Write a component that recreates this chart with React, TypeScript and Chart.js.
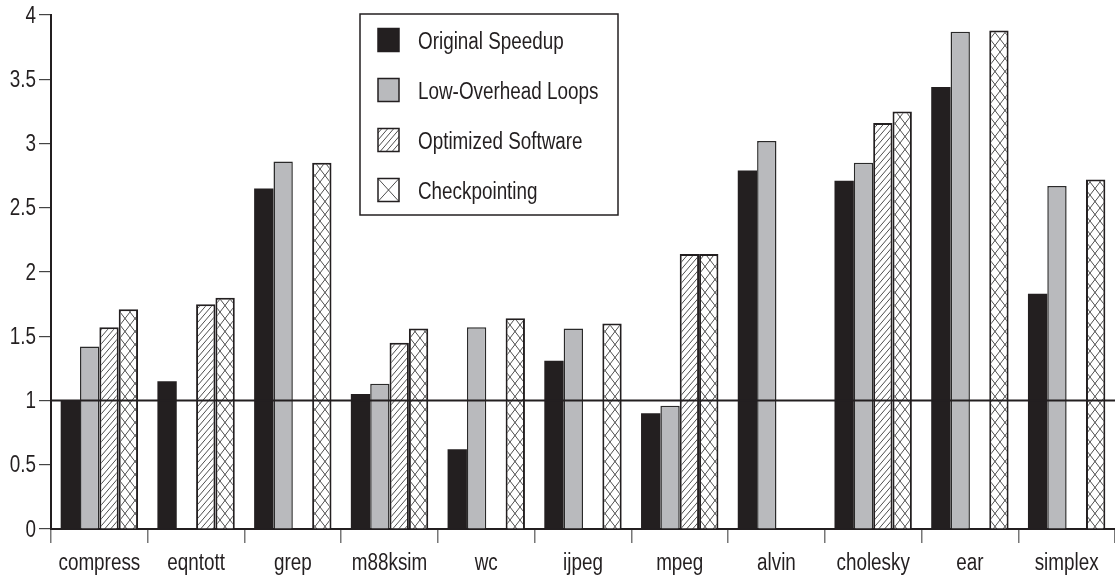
import React, { useEffect, useRef } from "react";
import { Chart, registerables } from "chart.js";

Chart.register(...registerables);

const categories = ["compress", "eqntott", "grep", "m88ksim", "wc", "ijpeg", "mpeg", "alvin", "cholesky", "ear", "simplex"];
const seriesNames = ["Original Speedup", "Low-Overhead Loops", "Optimized Software", "Checkpointing"];
const originalSpeedup = [1.0, 1.15, 2.65, 1.05, 0.62, 1.31, 0.9, 2.79, 2.71, 3.44, 1.83];
const lowOverheadLoops = [1.42, null, 2.86, 1.13, 1.57, 1.56, 0.96, 3.02, 2.85, 3.87, 2.67];
const optimizedSoftware = [1.57, 1.75, null, 1.45, null, null, 2.14, null, 3.16, null, null];
const checkpointing = [1.71, 1.8, 2.85, 1.56, 1.64, 1.6, 2.14, null, 3.25, 3.88, 2.72];
const yMin = 0;
const yMax = 4;
const yStep = 0.5;
const referenceValue = 1;

const FONT = "'Liberation Sans', Arial, Helvetica, sans-serif";
const FONT_SIZE = 23;
const SQUEEZE = 0.82; // narrow Helvetica look
const BLACK = "#231f20";
const GRAY = "#b9babd";

function makeHatch(): CanvasPattern | string {
  const c = document.createElement("canvas");
  const w = 6, h = 7;
  c.width = w; c.height = h;
  const g = c.getContext("2d");
  if (!g) return "#fff";
  g.fillStyle = "#fff";
  g.fillRect(0, 0, w, h);
  g.strokeStyle = "#222";
  g.lineWidth = 0.8;
  g.beginPath();
  g.moveTo(-w, 2 * h); g.lineTo(2 * w, -h);
  g.moveTo(-2 * w, 2 * h); g.lineTo(w, -h);
  g.moveTo(0, 2 * h); g.lineTo(3 * w, -h);
  g.stroke();
  return g.createPattern(c, "repeat") || "#fff";
}

function makeCross(): CanvasPattern | string {
  const c = document.createElement("canvas");
  const w = 10, h = 13;
  c.width = w; c.height = h;
  const g = c.getContext("2d");
  if (!g) return "#fff";
  g.fillStyle = "#fff";
  g.fillRect(0, 0, w, h);
  g.strokeStyle = "#222";
  g.lineWidth = 0.8;
  g.beginPath();
  g.moveTo(0, 0); g.lineTo(w, h);
  g.moveTo(0, h); g.lineTo(w, 0);
  g.stroke();
  return g.createPattern(c, "repeat") || "#fff";
}

function narrowText(ctx: CanvasRenderingContext2D, text: string, x: number, y: number, align: CanvasTextAlign) {
  ctx.save();
  ctx.translate(x, y);
  ctx.scale(SQUEEZE, 1);
  ctx.textAlign = align;
  ctx.textBaseline = "alphabetic";
  ctx.fillText(text, 0, 0);
  ctx.restore();
}

export default function App() {
  const ref = useRef<HTMLCanvasElement | null>(null);

  useEffect(() => {
    if (!ref.current) return;
    const hatch = makeHatch();
    const cross = makeCross();
    const fills: any[] = [BLACK, GRAY, hatch, cross];
    const borders = [BLACK, "#2a2a2a", BLACK, BLACK];
    const borderWidths = [0, 1.5, 2, 2];

    const refLine = {
      id: "refLine",
      afterDatasetsDraw(chart: any) {
        const { ctx, chartArea, scales } = chart;
        const y = scales.y.getPixelForValue(referenceValue);
        ctx.save();
        ctx.strokeStyle = BLACK;
        ctx.lineWidth = 2;
        ctx.beginPath();
        ctx.moveTo(chartArea.left, y);
        ctx.lineTo(chartArea.right, y);
        ctx.stroke();
        ctx.restore();
      },
    };

    const axisLabels = {
      id: "axisLabels",
      afterDraw(chart: any) {
        const { ctx, scales } = chart;
        ctx.save();
        ctx.fillStyle = BLACK;
        ctx.font = `${FONT_SIZE}px ${FONT}`;
        const xs = scales.x;
        (chart.data.labels as string[]).forEach((lab, i) => {
          narrowText(ctx, lab, xs.getPixelForValue(i), 570, "center");
        });
        const ys = scales.y;
        ys.ticks.forEach((t: any) => {
          const py = ys.getPixelForValue(t.value);
          narrowText(ctx, String(Number(t.value)), 36, py + 7.5, "right");
        });
        ctx.restore();
      },
    };

    const boxLegend = {
      id: "boxLegend",
      afterDraw(chart: any) {
        const { ctx } = chart;
        const x0 = 360, y0 = 14, w = 258, h = 201;
        ctx.save();
        ctx.fillStyle = "#fff";
        ctx.fillRect(x0, y0, w, h);
        ctx.strokeStyle = BLACK;
        ctx.lineWidth = 1.5;
        ctx.strokeRect(x0, y0, w, h);
        ctx.font = `${FONT_SIZE}px ${FONT}`;
        seriesNames.forEach((name, i) => {
          const cy = 40 + i * 50;
          const sx = 378, sw = 21, sh = 23;
          const sy = cy - sh / 2;
          if (i === 3) {
            ctx.fillStyle = "#fff";
            ctx.fillRect(sx, sy, sw, sh);
            ctx.strokeStyle = "#222";
            ctx.lineWidth = 0.8;
            ctx.beginPath();
            ctx.moveTo(sx, sy); ctx.lineTo(sx + sw, sy + sh);
            ctx.moveTo(sx, sy + sh); ctx.lineTo(sx + sw, sy);
            ctx.stroke();
          } else {
            ctx.fillStyle = fills[i];
            ctx.fillRect(sx, sy, sw, sh);
          }
          ctx.strokeStyle = BLACK;
          ctx.lineWidth = 1.5;
          ctx.strokeRect(sx, sy, sw, sh);
          ctx.fillStyle = BLACK;
          narrowText(ctx, name, 418, cy + 9, "left");
        });
        ctx.restore();
      },
    };

    const seriesData = [originalSpeedup, lowOverheadLoops, optimizedSoftware, checkpointing];

    const chart = new Chart(ref.current, {
      type: "bar",
      data: {
        labels: categories,
        datasets: seriesData.map((d, i) => ({
          label: seriesNames[i],
          data: d as any,
          backgroundColor: fills[i],
          borderColor: borders[i],
          borderWidth: borderWidths[i],
          categoryPercentage: 0.8,
          barPercentage: 1.0,
        })),
      },
      options: {
        animation: false,
        responsive: true,
        maintainAspectRatio: false,
        layout: { padding: { top: 15, left: 0, right: 0, bottom: 0 } },
        plugins: {
          legend: { display: false },
          tooltip: { enabled: false },
        },
        scales: {
          x: {
            afterFit(scale: any) { scale.height = 47; },
            grid: {
              offset: true,
              drawOnChartArea: false,
              drawTicks: true,
              tickLength: 14,
              color: "#777",
              lineWidth: 1.5,
            },
            border: { display: true, color: BLACK, width: 2 },
            ticks: { display: false, autoSkip: false },
          },
          y: {
            min: yMin,
            max: yMax,
            afterFit(scale: any) { scale.width = 51; },
            grid: {
              drawOnChartArea: false,
              drawTicks: true,
              tickLength: 12,
              color: "#444",
              lineWidth: 1.2,
            },
            border: { display: true, color: BLACK, width: 2 },
            ticks: { display: false, stepSize: yStep },
          },
        },
      },
      plugins: [refLine, axisLabels, boxLegend],
    });
    return () => chart.destroy();
  }, []);

  return (
    <div style={{ position: "absolute", left: 0, top: 0, width: 1115, height: 576, background: "#fff" }}>
      <canvas ref={ref} />
    </div>
  );
}
